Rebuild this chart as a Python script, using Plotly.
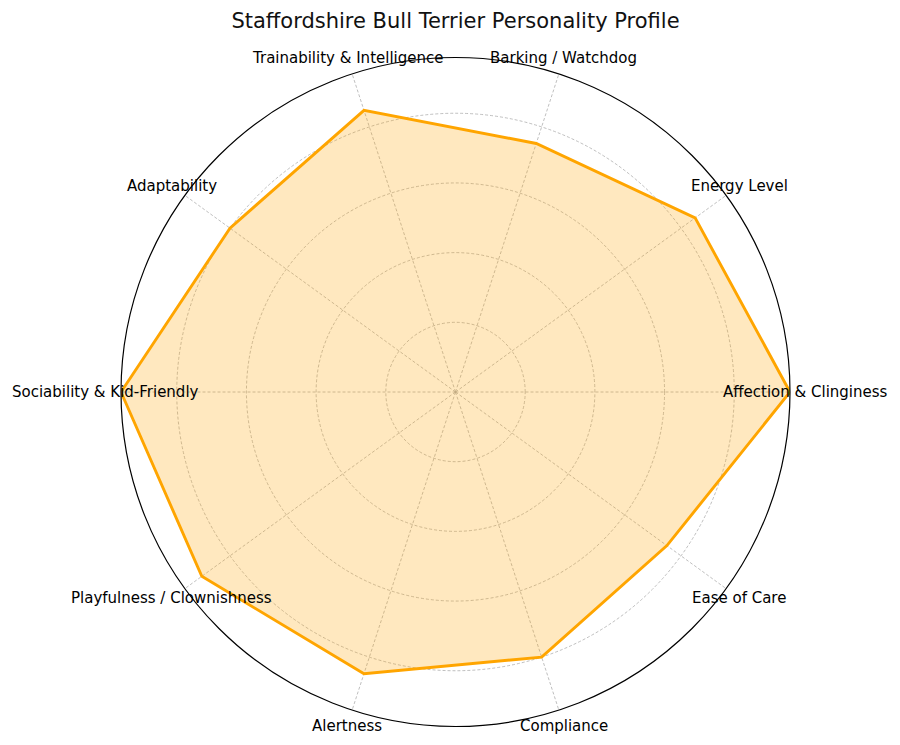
import math
import plotly.graph_objects as go

categories = ["Affection & Clinginess", "Energy Level", "Barking / Watchdog",
              "Trainability & Intelligence", "Adaptability", "Sociability & Kid-Friendly",
              "Playfulness / Clownishness", "Alertness", "Compliance", "Ease of Care"]
values = [4.8, 4.25, 3.75, 4.25, 4.0, 4.8, 4.5, 4.25, 4.0, 3.75]
radial_ticks = [1, 2, 3, 4]
r_max = 4.8
title_text = "Staffordshire Bull Terrier Personality Profile"

W, H = 900, 745
off = 8  # page body margin
cx, cy, R = 455.5 - off, 392 - off, 335
ml, mr, mt, mb = cx - R, W - (cx + R), cy - R, H - (cy + R)

fig = go.Figure()
fig.add_trace(go.Scatterpolar(
    r=values + values[:1],
    theta=categories + categories[:1],
    mode="lines",
    fill="toself",
    fillcolor="rgba(255,165,0,0.25)",
    line=dict(color="#FFA500", width=2.9),
    hoverinfo="skip",
))

n = len(categories)
annotations = []
k = 351 / R
for i, c in enumerate(categories):
    ang = 2 * math.pi * i / n
    annotations.append(dict(
        text=c, xref="paper", yref="paper",
        x=0.5 + 0.5 * k * math.cos(ang), y=0.5 + 0.5 * k * math.sin(ang),
        xanchor="center", yanchor="middle", showarrow=False,
        font=dict(family="DejaVu Sans", size=15, color="black"),
    ))

grid_col = "rgba(170,170,170,0.75)"
fig.update_layout(
    width=W, height=H,
    margin=dict(l=ml, r=mr, t=mt, b=mb, pad=0),
    paper_bgcolor="white",
    showlegend=False,
    title=dict(text=title_text, x=0.5, xref="paper", xanchor="center",
               y=1 - (21 - off) / H, yref="container", yanchor="middle",
               font=dict(family="DejaVu Sans", size=21, color="#111")),
    polar=dict(
        domain=dict(x=[0, 1], y=[0, 1]),
        bgcolor="white",
        radialaxis=dict(range=[0, r_max], tickvals=radial_ticks, showticklabels=False,
                        ticks="", showline=False, gridcolor=grid_col,
                        griddash="3px,2px", gridwidth=0.8),
        angularaxis=dict(type="category", direction="counterclockwise", rotation=0,
                         showticklabels=False, ticks="", showline=True,
                         linecolor="black", linewidth=1.2,
                         gridcolor=grid_col, griddash="3px,2px", gridwidth=0.8),
    ),
    annotations=annotations,
)

fig.write_html("out.html")
